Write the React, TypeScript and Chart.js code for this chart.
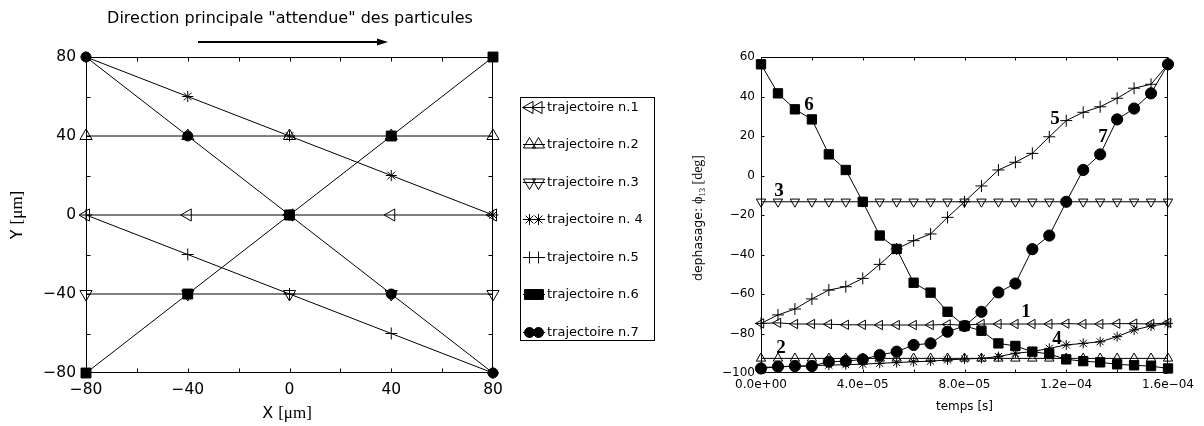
import React, { useEffect, useRef } from 'react';
import { Chart, registerables } from 'chart.js';
import { drawPoint } from 'chart.js/helpers';

Chart.register(...registerables);

const SANS = '"DejaVu Sans", sans-serif';
const SERIF = '"Liberation Serif", "DejaVu Serif", serif';

// ---------- Left chart: trajectories ----------
const trajX = [-80, -40, 0, 40, 80];
const traj1Y = [0, 0, 0, 0, 0];
const traj2Y = [40, 40, 40, 40, 40];
const traj3Y = [-40, -40, -40, -40, -40];
const traj4Y = [80, 60, 40, 20, 0];
const traj5Y = [0, -20, -40, -60, -80];
const traj6Y = [-80, -40, 0, 40, 80];
const traj7Y = [80, 40, 0, -40, -80];
const trajLabels = [
  'trajectoire n.1',
  'trajectoire n.2',
  'trajectoire n.3',
  'trajectoire n. 4',
  'trajectoire n.5',
  'trajectoire n.6',
  'trajectoire n.7',
];
const chartTitle = 'Direction principale "attendue" des particules';

// ---------- Right chart: phase vs time ----------
const timeSeconds = [
  0, 6.67e-6, 1.333e-5, 2.0e-5, 2.667e-5, 3.333e-5, 4.0e-5, 4.667e-5, 5.333e-5,
  6.0e-5, 6.667e-5, 7.333e-5, 8.0e-5, 8.667e-5, 9.333e-5, 1.0e-4, 1.0667e-4,
  1.1333e-4, 1.2e-4, 1.2667e-4, 1.3333e-4, 1.4e-4, 1.4667e-4, 1.5333e-4, 1.6e-4,
];
const phase1 = [-74.9, -74.6, -75.2, -75.2, -75.3, -75.6, -75.6, -75.7, -75.7, -75.7, -75.7, -75.4, -75.8, -75.2, -75.2, -75.2, -75.2, -75.2, -75.0, -75.2, -75.2, -75.0, -75.0, -75.2, -74.6];
const phase2 = [-92.6, -92.6, -92.6, -92.6, -92.6, -92.6, -92.6, -92.6, -92.6, -92.6, -92.6, -92.6, -92.6, -92.6, -92.6, -92.6, -92.6, -92.6, -92.6, -92.6, -92.6, -92.6, -92.6, -92.6, -92.6];
const phase3 = [-13.3, -13.3, -13.3, -13.3, -13.3, -13.3, -13.3, -13.3, -13.3, -13.3, -13.3, -13.3, -13.3, -13.3, -13.3, -13.3, -13.3, -13.3, -13.3, -13.3, -13.3, -13.3, -13.3, -13.3, -13.3];
const phase4 = [-97.2, -96.9, -96.6, -96.3, -96.0, -95.8, -95.5, -95.1, -94.7, -94.3, -94.0, -93.4, -92.9, -92.6, -91.7, -90.0, -89.2, -87.5, -85.8, -85.0, -84.2, -81.6, -78.2, -76.2, -74.9];
const phase5 = [-74.9, -70.6, -67.6, -62.5, -58.0, -56.3, -52.1, -45.0, -37.2, -33.0, -29.6, -21.2, -13.3, -5.3, 2.8, 6.7, 11.2, 19.6, 27.8, 32.0, 34.8, 39.1, 44.2, 46.2, 56.3];
const phase6 = [56.3, 41.6, 33.5, 28.4, 10.7, 2.8, -13.3, -30.4, -37.2, -54.3, -59.3, -69.0, -76.2, -78.6, -85.0, -86.3, -89.2, -90.4, -93.1, -94.0, -94.6, -95.6, -96.1, -96.5, -97.7];
const phase7 = [-97.7, -96.8, -96.5, -96.5, -94.3, -94.0, -93.1, -90.9, -89.2, -85.8, -85.0, -79.1, -76.2, -69.0, -59.2, -54.7, -37.3, -30.4, -13.3, 2.8, 10.7, 28.4, 33.9, 41.6, 56.3];

const curveLabels = ['1', '2', '3', '4', '5', '6', '7'];
const curveLabelTime = [1.042e-4, 7.9e-6, 7.1e-6, 1.164e-4, 1.156e-4, 1.89e-5, 1.344e-4];
const curveLabelPhase = [-69.1, -87.3, -7.8, -82.8, 28.6, 35.7, 19.5];

// ---------- styles ----------
const markerStyles = [
  { pointStyle: 'triangle', rotation: -90, filled: false },
  { pointStyle: 'triangle', rotation: 0, filled: false },
  { pointStyle: 'triangle', rotation: 180, filled: false },
  { pointStyle: 'star', rotation: 0, filled: false },
  { pointStyle: 'cross', rotation: 0, filled: false },
  { pointStyle: 'rect', rotation: 0, filled: true },
  { pointStyle: 'circle', rotation: 0, filled: true },
];
const leftRadii = [7, 7, 7, 5.5, 6, 7, 5];
const rightRadii = [5.4, 5.4, 5.4, 5, 6, 6.6, 5.6];

const MINUS = '\u2212';
const fmtInt = (v: number) => (v < 0 ? MINUS + Math.abs(Math.round(v)) : String(Math.round(v)));
const fmtExp = (v: number) => {
  const [m, e] = v.toExponential(1).split('e');
  const n = parseInt(e, 10);
  return `${m}e${n < 0 ? MINUS : '+'}${String(Math.abs(n)).padStart(2, '0')}`;
};

function makeDataset(label: string, xs: number[], ys: number[], i: number, radii: number[]) {
  const st = markerStyles[i];
  return {
    label,
    data: xs.map((x, k) => ({ x, y: ys[k] })),
    showLine: true,
    borderColor: '#000',
    borderWidth: 1,
    backgroundColor: st.filled ? '#000' : 'rgba(0,0,0,0)',
    pointStyle: st.pointStyle,
    pointRotation: st.rotation,
    pointRadius: radii[i],
    pointBorderWidth: 1,
    pointBorderColor: '#000',
    pointBackgroundColor: st.filled ? '#000' : 'rgba(0,0,0,0)',
    tension: 0,
    clip: false as any,
  };
}

function framePlugin(tickLen: number) {
  return {
    id: 'frameTicks',
    afterDatasetsDraw(chart: any) {
      const { ctx, chartArea: a, scales } = chart;
      const L = Math.round(a.left) + 0.5;
      const R = Math.round(a.right) - 0.5;
      const T = Math.round(a.top) + 0.5;
      const B = Math.round(a.bottom) - 0.5;
      ctx.save();
      ctx.strokeStyle = '#000';
      ctx.lineWidth = 1;
      ctx.strokeRect(L, T, R - L, B - T);
      ctx.beginPath();
      for (const t of scales.x.ticks) {
        const px = Math.round(scales.x.getPixelForValue(t.value)) + 0.5;
        ctx.moveTo(px, B);
        ctx.lineTo(px, B - tickLen);
        ctx.moveTo(px, T);
        ctx.lineTo(px, T + tickLen);
      }
      for (const t of scales.y.ticks) {
        const py = Math.round(scales.y.getPixelForValue(t.value)) + 0.5;
        ctx.moveTo(L, py);
        ctx.lineTo(L + tickLen, py);
        ctx.moveTo(R, py);
        ctx.lineTo(R - tickLen, py);
      }
      ctx.stroke();
      ctx.restore();
    },
  };
}

type Part = { t: string; f: string; dy?: number };
function drawParts(ctx: CanvasRenderingContext2D, parts: Part[], cx: number, cy: number, rot: number) {
  ctx.save();
  ctx.translate(cx, cy);
  ctx.rotate(rot);
  ctx.fillStyle = '#000';
  ctx.textBaseline = 'alphabetic';
  ctx.textAlign = 'left';
  let total = 0;
  const widths = parts.map((p) => {
    ctx.font = p.f;
    const w = ctx.measureText(p.t).width;
    total += w;
    return w;
  });
  let x = -total / 2;
  parts.forEach((p, i) => {
    ctx.font = p.f;
    ctx.fillText(p.t, x, 5 + (p.dy || 0));
    x += widths[i];
  });
  ctx.restore();
}

const leftDecorPlugin = {
  id: 'leftDecor',
  afterDraw(chart: any) {
    const ctx: CanvasRenderingContext2D = chart.ctx;
    ctx.save();
    // title
    ctx.fillStyle = '#000';
    ctx.font = `16px ${SANS}`;
    ctx.textAlign = 'center';
    ctx.textBaseline = 'middle';
    ctx.fillText(chartTitle, 290, 19);
    // arrow
    ctx.strokeStyle = '#000';
    ctx.lineWidth = 2;
    ctx.beginPath();
    ctx.moveTo(198, 42);
    ctx.lineTo(379, 42);
    ctx.stroke();
    ctx.beginPath();
    ctx.moveTo(377, 38.5);
    ctx.lineTo(388, 42);
    ctx.lineTo(377, 45.5);
    ctx.closePath();
    ctx.fill();
    ctx.restore();

    // axis titles
    drawParts(ctx, [{ t: 'X ', f: `16px ${SANS}` }, { t: '[\u03bcm]', f: `17px ${SERIF}` }], 287, 413, 0);
    drawParts(ctx, [{ t: 'Y ', f: `16px ${SANS}` }, { t: '[\u03bcm]', f: `17px ${SERIF}` }], 17, 215, -Math.PI / 2);

    // legend box
    ctx.save();
    ctx.strokeStyle = '#000';
    ctx.lineWidth = 1;
    ctx.strokeRect(520.5, 97.5, 134, 243);
    trajLabels.forEach((lab, i) => {
      const y = Math.round(107 + i * 37.45) + 0.5;
      const st = markerStyles[i];
      ctx.strokeStyle = '#000';
      ctx.lineWidth = 1;
      ctx.beginPath();
      ctx.moveTo(523, y);
      ctx.lineTo(545, y);
      ctx.stroke();
      ctx.fillStyle = st.filled ? '#000' : 'rgba(0,0,0,0)';
      [529.5, 538.5].forEach((mx) => {
        drawPoint(ctx, { pointStyle: st.pointStyle as any, rotation: st.rotation, radius: leftRadii[i], borderWidth: 1 }, mx, y);
      });
      ctx.fillStyle = '#000';
      ctx.font = `13px ${SANS}`;
      ctx.textAlign = 'left';
      ctx.textBaseline = 'middle';
      ctx.fillText(lab, 547, y);
    });
    ctx.restore();
  },
};

const rightDecorPlugin = {
  id: 'rightDecor',
  afterDraw(chart: any) {
    const ctx: CanvasRenderingContext2D = chart.ctx;
    const { x: xs, y: ys } = chart.scales;
    ctx.save();
    ctx.fillStyle = '#000';
    ctx.font = `12px ${SANS}`;
    ctx.textAlign = 'center';
    ctx.textBaseline = 'middle';
    ctx.fillText('temps [s]', (chart.chartArea.left + chart.chartArea.right) / 2, 407);
    ctx.font = `bold 19px ${SERIF}`;
    curveLabels.forEach((lab, i) => {
      ctx.fillText(lab, xs.getPixelForValue(curveLabelTime[i]), ys.getPixelForValue(curveLabelPhase[i]));
    });
    ctx.restore();
    drawParts(
      ctx,
      [
        { t: 'dephasage: ', f: `12.5px ${SANS}` },
        { t: '\u03d5', f: `14px ${SERIF}` },
        { t: '13', f: `8.5px ${SERIF}`, dy: 3 },
        { t: ' [deg]', f: `14px ${SERIF}` },
      ],
      17,
      218,
      -Math.PI / 2
    );
  },
};

function LeftChart() {
  const ref = useRef<HTMLCanvasElement>(null);
  useEffect(() => {
    const ys = [traj1Y, traj2Y, traj3Y, traj4Y, traj5Y, traj6Y, traj7Y];
    const chart = new Chart(ref.current!, {
      type: 'scatter',
      data: { datasets: ys.map((y, i) => makeDataset(trajLabels[i], trajX, y, i, leftRadii)) as any },
      options: {
        responsive: false,
        animation: false,
        layout: { padding: { left: 0, right: 187, top: 57, bottom: 0 } },
        plugins: { legend: { display: false }, tooltip: { enabled: false }, title: { display: false } },
        scales: {
          x: {
            type: 'linear',
            min: -80,
            max: 80,
            grid: { display: false, drawTicks: false },
            border: { display: false },
            afterFit: (s: any) => {
              s.height = 53;
            },
            ticks: {
              stepSize: 20,
              autoSkip: false,
              maxRotation: 0,
              padding: 8,
              color: '#000',
              font: { family: SANS, size: 15.5 },
              callback: (v: any) => (Math.round(v) % 40 === 0 ? fmtInt(v) : ''),
            },
          },
          y: {
            type: 'linear',
            min: -80,
            max: 80,
            grid: { display: false, drawTicks: false },
            border: { display: false },
            afterFit: (s: any) => {
              s.width = 86;
            },
            ticks: {
              stepSize: 20,
              autoSkip: false,
              padding: 10,
              color: '#000',
              font: { family: SANS, size: 15.5 },
              callback: (v: any) => (Math.round(v) % 40 === 0 ? fmtInt(v) : ''),
            },
          },
        },
      } as any,
      plugins: [framePlugin(4), leftDecorPlugin],
    });
    return () => chart.destroy();
  }, []);
  return <canvas ref={ref} width={680} height={426} style={{ position: 'absolute', left: 0, top: 0, display: 'block' }} />;
}

function RightChart() {
  const ref = useRef<HTMLCanvasElement>(null);
  useEffect(() => {
    const series = [phase1, phase2, phase3, phase4, phase5, phase6, phase7];
    const chart = new Chart(ref.current!, {
      type: 'scatter',
      data: { datasets: series.map((s, i) => makeDataset('curve ' + (i + 1), timeSeconds, s, i, rightRadii)) as any },
      options: {
        responsive: false,
        animation: false,
        layout: { padding: { left: 0, right: 36, top: 57, bottom: 0 } },
        plugins: { legend: { display: false }, tooltip: { enabled: false }, title: { display: false } },
        scales: {
          x: {
            type: 'linear',
            min: 0,
            max: 1.6e-4,
            grid: { display: false, drawTicks: false },
            border: { display: false },
            afterFit: (s: any) => {
              s.height = 53;
            },
            ticks: {
              stepSize: 2e-5,
              autoSkip: false,
              maxRotation: 0,
              padding: 5,
              color: '#000',
              font: { family: SANS, size: 12 },
              callback: (v: any, idx: number) => (idx % 2 === 0 ? fmtExp(v) : ''),
            },
          },
          y: {
            type: 'linear',
            min: -100,
            max: 60,
            grid: { display: false, drawTicks: false },
            border: { display: false },
            afterFit: (s: any) => {
              s.width = 81;
            },
            ticks: {
              stepSize: 20,
              autoSkip: false,
              padding: 6,
              color: '#000',
              font: { family: SANS, size: 12 },
              callback: (v: any) => fmtInt(v),
            },
          },
        },
      } as any,
      plugins: [framePlugin(3), rightDecorPlugin],
    });
    return () => chart.destroy();
  }, []);
  return <canvas ref={ref} width={524} height={426} style={{ position: 'absolute', left: 680, top: 0, display: 'block' }} />;
}

export default function App() {
  return (
    <div style={{ position: 'absolute', left: 0, top: 0, width: 1204, height: 426, background: '#fff', overflow: 'hidden' }}>
      <LeftChart />
      <RightChart />
    </div>
  );
}
